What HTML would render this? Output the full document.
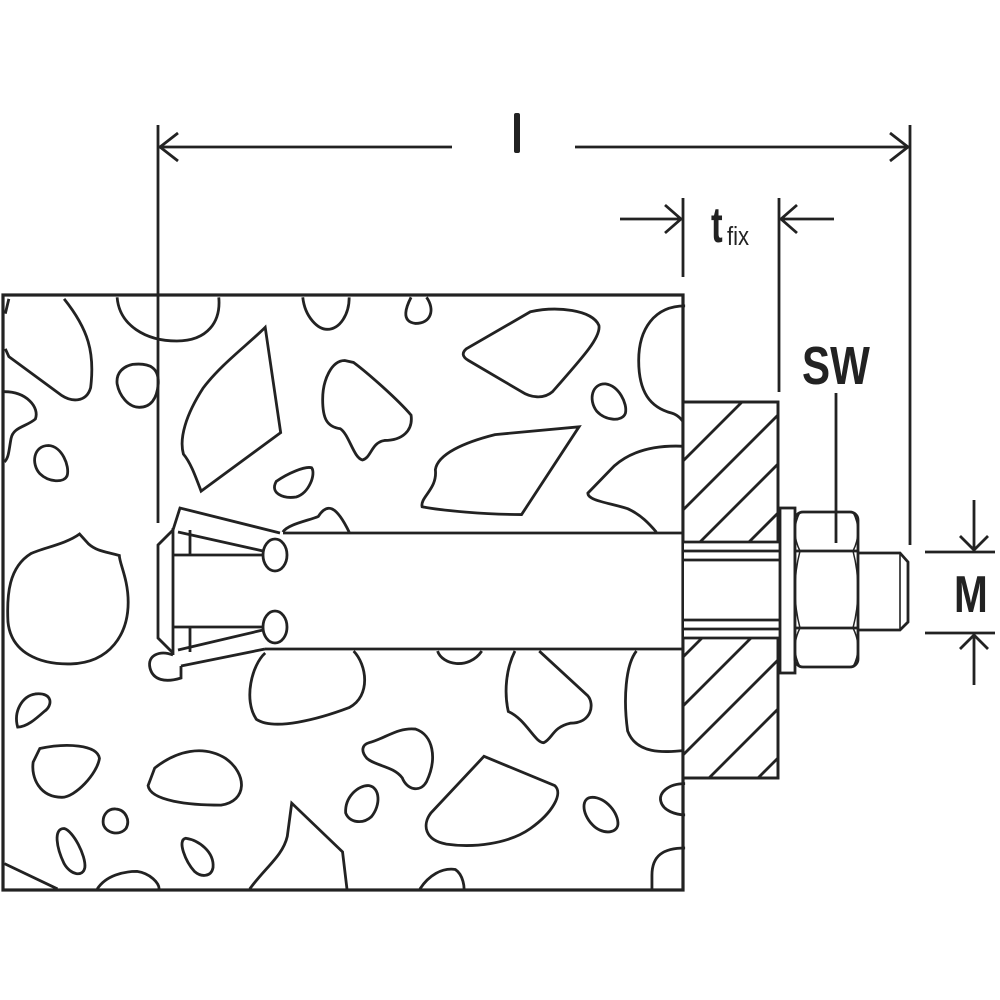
<!DOCTYPE html>
<html><head><meta charset="utf-8"><style>html,body{margin:0;padding:0;background:#fff}svg{display:block}</style></head>
<body>
<svg width="1000" height="1000" viewBox="0 0 1000 1000" xmlns="http://www.w3.org/2000/svg">
<defs>
<clipPath id="pl"><path d="M683,402 H778 V542 H683 Z M683,638 H778 V778 H683 Z"/></clipPath>
</defs>
<g fill="none" stroke="#222" stroke-width="2.8">
<g transform="translate(0,290.3) scale(0.442,0.39)">
<path vector-effect="non-scaling-stroke" d="M145,22 C200,100 215,160 205,250 C195,290 160,285 140,270 L20,170 L12,150 M20,22 L12,60"/>
<path vector-effect="non-scaling-stroke" d="M265,18 C270,90 330,130 400,130 C470,130 500,80 495,18"/>
<path vector-effect="non-scaling-stroke" d="M300,190 C340,185 360,200 358,240 C355,280 340,300 315,300 C290,300 270,270 265,240 C262,210 280,195 300,190 Z"/>
<path vector-effect="non-scaling-stroke" d="M10,260 C60,260 90,300 80,330 C60,350 30,350 25,380 C20,410 20,430 10,440"/>
<path vector-effect="non-scaling-stroke" d="M110,398 C140,400 158,450 152,475 C145,495 110,492 90,470 C70,445 75,398 110,398 Z"/>
<path vector-effect="non-scaling-stroke" d="M600,95 L635,365 L455,515 C440,470 430,440 415,420 C405,380 420,320 460,250 C500,190 560,140 600,95 Z"/>
<path vector-effect="non-scaling-stroke" d="M780,180 C750,180 730,230 730,280 C730,330 740,350 770,355 C790,370 800,430 820,435 C840,430 840,390 870,385 C910,385 935,360 930,320 C900,280 830,210 800,185 Z"/>
<path vector-effect="non-scaling-stroke" d="M685,18 C690,70 720,100 740,100 C770,100 790,60 790,18"/>
<path vector-effect="non-scaling-stroke" d="M930,18 C920,40 905,80 940,85 C975,85 985,50 965,18"/>
<path vector-effect="non-scaling-stroke" d="M1055,150 L1200,55 C1260,40 1340,50 1355,90 C1360,120 1320,170 1250,260 C1230,280 1200,275 1180,260 L1060,180 C1045,170 1045,160 1055,150 Z"/>
<path vector-effect="non-scaling-stroke" d="M1370,240 C1400,245 1420,290 1415,315 C1408,338 1370,335 1350,310 C1330,280 1340,238 1370,240 Z"/>
<path vector-effect="non-scaling-stroke" d="M1550,40 C1480,40 1445,100 1445,180 C1445,260 1470,300 1520,315 C1535,320 1545,335 1550,345"/>
<path vector-effect="non-scaling-stroke" d="M625,490 C650,470 690,450 705,455 C715,470 700,520 670,530 C640,535 610,520 625,490 Z"/>
<path vector-effect="non-scaling-stroke" d="M1310,350 L1180,575 C1100,575 1000,565 955,555 C950,530 990,510 985,460 C990,420 1050,390 1120,370 Z"/>
<path vector-effect="non-scaling-stroke" d="M1550,400 C1470,395 1420,420 1390,450 L1330,520 C1330,540 1380,545 1420,560 C1450,575 1470,600 1485,620"/>
<path vector-effect="non-scaling-stroke" d="M640,620 C650,600 700,590 720,580 C740,545 760,550 790,620"/>
<path vector-effect="non-scaling-stroke" d="M180,625 C150,650 100,660 70,675 C20,710 15,780 18,850 C25,930 90,960 160,958 C250,955 290,880 290,800 C290,740 270,700 270,680 C240,670 220,670 200,650 Z"/>
<path vector-effect="non-scaling-stroke" d="M600,930 C570,960 550,1050 580,1100 C620,1130 720,1100 790,1070 C840,1040 830,960 800,925"/>
<path vector-effect="non-scaling-stroke" d="M990,925 C1000,960 1060,975 1090,925"/>
<path vector-effect="non-scaling-stroke" d="M1165,925 C1145,970 1140,1030 1150,1080 C1190,1100 1210,1160 1230,1160 C1250,1150 1250,1120 1290,1110 C1340,1110 1345,1060 1330,1040 L1220,925"/>
<path vector-effect="non-scaling-stroke" d="M1440,925 C1415,960 1410,1050 1420,1130 C1440,1190 1500,1185 1550,1180"/>
<path vector-effect="non-scaling-stroke" d="M40,1120 C30,1080 50,1040 80,1035 C120,1030 120,1065 100,1080 C80,1100 60,1120 40,1120 Z"/>
<path vector-effect="non-scaling-stroke" d="M90,1175 C150,1160 220,1165 225,1200 C220,1240 170,1300 140,1300 C90,1300 70,1250 75,1210 Z"/>
<path vector-effect="non-scaling-stroke" d="M350,1225 C400,1180 460,1165 510,1200 C560,1240 560,1310 500,1320 C430,1320 340,1310 335,1270 Z"/>
<path vector-effect="non-scaling-stroke" d="M835,1160 C870,1150 900,1120 940,1125 C980,1140 990,1200 965,1260 C950,1290 920,1280 910,1250 C890,1220 850,1220 830,1200 C815,1180 820,1165 835,1160 Z"/>
<path vector-effect="non-scaling-stroke" d="M1095,1195 L1255,1270 C1275,1290 1250,1340 1200,1380 C1150,1420 1070,1430 1010,1420 C960,1410 955,1370 975,1340 Z"/>
<path vector-effect="non-scaling-stroke" d="M1340,1300 C1370,1300 1400,1340 1398,1370 C1395,1395 1360,1395 1340,1370 C1315,1340 1315,1300 1340,1300 Z"/>
<path vector-effect="non-scaling-stroke" d="M1550,1265 C1510,1265 1490,1290 1495,1310 C1500,1335 1530,1345 1550,1345"/>
<path vector-effect="non-scaling-stroke" d="M835,1270 C860,1275 862,1320 840,1350 C820,1370 790,1365 782,1340 C780,1300 810,1268 835,1270 Z"/>
<path vector-effect="non-scaling-stroke" d="M262,1330 C285,1332 295,1360 285,1380 C270,1400 240,1392 234,1370 C230,1345 245,1328 262,1330 Z"/>
<path vector-effect="non-scaling-stroke" d="M145,1380 C165,1385 195,1450 192,1480 C188,1505 160,1500 145,1470 C128,1430 120,1380 145,1380 Z"/>
<path vector-effect="non-scaling-stroke" d="M420,1405 C450,1410 485,1440 482,1480 C478,1505 455,1505 440,1490 C420,1465 400,1410 420,1405 Z"/>
<path vector-effect="non-scaling-stroke" d="M565,1535 C600,1480 640,1450 650,1400 L660,1315 L775,1440 L785,1535"/>
<path vector-effect="non-scaling-stroke" d="M220,1535 C240,1500 280,1490 310,1490 C340,1495 360,1520 360,1535"/>
<path vector-effect="non-scaling-stroke" d="M950,1535 C970,1500 1000,1480 1030,1485 C1050,1500 1050,1535 1050,1535"/>
<path vector-effect="non-scaling-stroke" d="M10,1470 L130,1535"/>
<path vector-effect="non-scaling-stroke" d="M1550,1430 C1500,1430 1475,1450 1475,1500 L1475,1535"/>
</g>
</g>
<rect x="283" y="533" width="400" height="116" fill="#fff" stroke="none"/>
<g fill="none" stroke="#222" stroke-width="2.8">
<line x1="283" y1="533" x2="683" y2="533"/>
<line x1="265" y1="649" x2="683" y2="649"/>
<rect x="3" y="295" width="680" height="595" stroke-width="3.2"/>
<path d="M173,530 L158,545 L158,638 L173,653"/>
<line x1="173" y1="528" x2="173" y2="655"/>
<line x1="190" y1="530" x2="190" y2="555"/>
<line x1="190" y1="627" x2="190" y2="652"/>
<line x1="173" y1="555" x2="262" y2="555"/>
<line x1="173" y1="627" x2="262" y2="627"/>
<path d="M173,530 L180,508 L280,533"/>
<line x1="178" y1="532" x2="263" y2="551"/>
<line x1="178" y1="650" x2="263" y2="630"/>
<path d="M181,666 L265,649"/>
<path d="M173,655 C160,650 147,655 150,668 C153,680 165,683 181,678 L181,666"/>
<ellipse cx="275" cy="555" rx="12" ry="16" fill="#fff"/>
<ellipse cx="275" cy="627" rx="12" ry="16" fill="#fff"/>
</g>
<g fill="none" stroke="#222" stroke-width="2.8">
<rect x="683" y="402" width="95" height="376" fill="#fff"/>
<g clip-path="url(#pl)">
<path d="M683,461 L742,402 M683,510 L791,402 M683,559 L791,451 M683,608 L791,500 M683,657 L791,549 M683,706 L791,598 M683,755 L791,647 M709,778 L791,696 M758,778 L791,745"/>
</g>
<rect x="683" y="402" width="95" height="376"/>
<rect x="684" y="542" width="96" height="96" fill="#fff" stroke="none"/>
<path d="M683,542 H780 M683,551 H780 M683,560 H780 M683,620 H780 M683,629 H780 M683,638 H780"/>
<rect x="780" y="508" width="15" height="165" fill="#fff"/>
<rect x="795" y="512" width="63" height="155" rx="8" fill="#fff"/>
<path d="M795,551 H858 M795,628 H858"/>
<path d="M800,512 Q790,531 800,551 Q790,590 800,628 Q790,648 800,667" stroke-width="1.5"/>
<path d="M853,512 Q863,531 853,551 Q863,590 853,628 Q863,648 853,667" stroke-width="1.5"/>
<path d="M858,553 H900 L908,562 V622 L900,630 H858"/>
<path d="M900,553 V630" stroke-width="1.6"/>
<path d="M158,125 V523 M910,125 V545"/>
<path d="M158,147 H452 M575,147 H910"/>
<path d="M178,133 L160,147 L178,161 M890,133 L908,147 L890,161"/>
<path d="M683,198 V277 M779,198 V392"/>
<path d="M620,219 H681 M665,205 L681,219 L665,233 M781,219 H834 M797,205 L781,219 L797,233"/>
<path d="M836,393 V543"/>
<path d="M925,552 H995 M925,633 H995"/>
<path d="M974,500 V550 M960,536 L974,550 L988,536 M974,635 V685 M960,649 L974,635 L988,649"/>
</g>
<rect x="514" y="113" width="6" height="40" rx="2" fill="#222"/>
<g font-family="Liberation Sans, sans-serif" fill="#222">
<text x="711" y="242" font-size="50" font-weight="bold" transform="translate(711,0) scale(0.7,1) translate(-711,0)">t</text>
<text x="727" y="245" font-size="26" transform="translate(727,0) scale(0.85,1) translate(-727,0)">fix</text>
<text x="802" y="384" font-size="54" font-weight="bold" transform="translate(802,0) scale(0.78,1) translate(-802,0)">SW</text>
<text x="954" y="612" font-size="52" font-weight="bold" transform="translate(954,0) scale(0.78,1) translate(-954,0)">M</text>
</g>
</svg>
</body></html>
